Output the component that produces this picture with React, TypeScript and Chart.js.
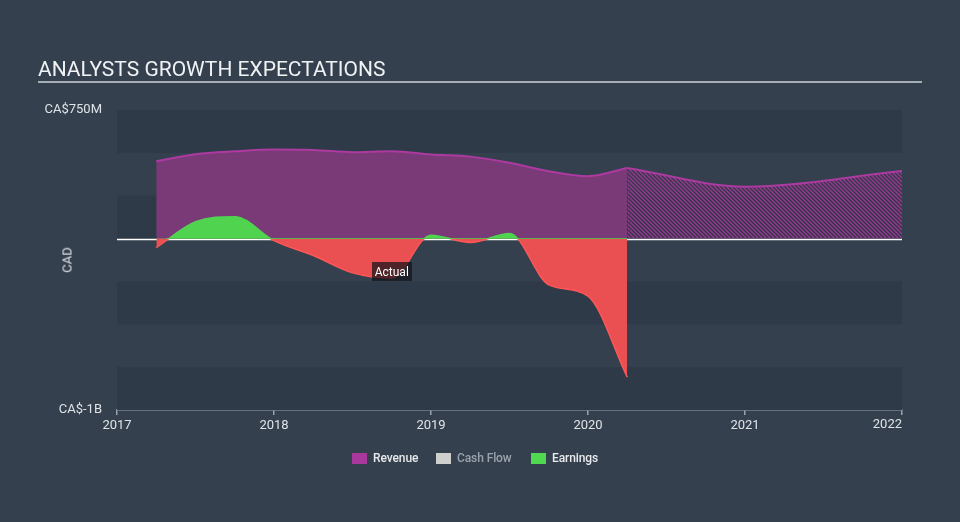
import React, { useEffect, useRef } from "react";
import { Chart, registerables } from "chart.js";

Chart.register(...registerables);

// ---- data (CA$ millions, x in decimal years) ----
const actualYears = [2017.25, 2017.5, 2017.75, 2018.0, 2018.25, 2018.5, 2018.75, 2019.0, 2019.25, 2019.5, 2019.75, 2020.0, 2020.25];
const revenueActual = [451, 492, 509, 519, 517, 504, 509, 490, 478, 442, 393, 364, 412];
const earningsActual = [-53, 98, 128, -12, -99, -200, -230, 20, -23, 30, -270, -336, -809];
const forecastYears = [2020.25, 2021.0, 2022.0];
const revenueForecast = [412, 303, 394];
const xTickYears = [2017, 2018, 2019, 2020, 2021, 2022];
const yGridValues = [-1000, -750, -500, -250, 0, 250, 500, 750];
const yTickLabels: Record<number, string> = { 750: "CA$750M", [-1000]: "CA$-1B" };
const actualLabel = { x: 2018.75, y: -193, text: "Actual" };
const legendItems = [
  { label: "Revenue", color: "#a8389c", text: "#e8eaed" },
  { label: "Cash Flow", color: "#cfcfcf", text: "#9aa3ad" },
  { label: "Earnings", color: "#50d850", text: "#e8eaed" },
];

const BG = "#34404d";
const BAND = "#2e3a48";
const GREEN = "#50d450";
const RED = "#ea4f52";
const PURPLE_FILL = "#7a3977";
const PURPLE_LINE = "#ad3aa0";
const AXIS = "#9aa4ae";
const TEXT = "#dfe3e8";
const FONT = "Roboto, 'Open Sans', sans-serif";

function makeHatch(): CanvasPattern | string {
  const c = document.createElement("canvas");
  c.width = 4;
  c.height = 4;
  const g = c.getContext("2d");
  if (!g) return PURPLE_FILL;
  g.fillStyle = "rgba(70,40,80,0.35)";
  g.fillRect(0, 0, 4, 4);
  g.strokeStyle = "#973b90";
  g.lineWidth = 1.3;
  g.beginPath();
  g.moveTo(0, 0);
  g.lineTo(4, 4);
  g.moveTo(-2, 2);
  g.lineTo(2, 6);
  g.moveTo(2, -2);
  g.lineTo(6, 2);
  g.stroke();
  const p = g.createPattern(c, "repeat");
  return p || PURPLE_FILL;
}

const bandsPlugin = {
  id: "bands",
  beforeDatasetsDraw(chart: any) {
    const { ctx, chartArea, scales } = chart;
    const y = scales.y;
    ctx.save();
    const vals = [...yGridValues].sort((a, b) => b - a);
    for (let i = 0; i < vals.length - 1; i++) {
      if (i % 2 === 0) {
        const top = y.getPixelForValue(vals[i]);
        const bot = y.getPixelForValue(vals[i + 1]);
        ctx.fillStyle = BAND;
        ctx.fillRect(chartArea.left, top, chartArea.right - chartArea.left, bot - top);
      }
    }
    const y0 = Math.round(y.getPixelForValue(0)) + 0.5;
    ctx.strokeStyle = "#ffffff";
    ctx.lineWidth = 1.5;
    ctx.beginPath();
    ctx.moveTo(chartArea.left, y0);
    ctx.lineTo(chartArea.right, y0);
    ctx.stroke();
    ctx.restore();
  },
  afterDatasetsDraw(chart: any) {
    const { ctx, scales, chartArea } = chart;
    const x = scales.x;
    const y = scales.y;
    ctx.save();
    // zero guide within actual period
    const y0 = Math.round(y.getPixelForValue(0)) - 0.5;
    ctx.strokeStyle = "rgba(80,200,80,0.8)";
    ctx.lineWidth = 1;
    ctx.beginPath();
    ctx.moveTo(x.getPixelForValue(actualYears[0]) + 10, y0);
    ctx.lineTo(x.getPixelForValue(actualYears[actualYears.length - 1]), y0);
    ctx.stroke();
    // "Actual" label
    const cx = x.getPixelForValue(actualLabel.x);
    const cy = y.getPixelForValue(actualLabel.y);
    ctx.font = `12px ${FONT}`;
    const w = ctx.measureText(actualLabel.text).width + 6;
    const h = 19;
    ctx.fillStyle = "rgba(20,20,24,0.72)";
    ctx.fillRect(Math.round(cx - w / 2), Math.round(cy - h / 2), Math.round(w), h);
    ctx.fillStyle = "#ffffff";
    ctx.textAlign = "center";
    ctx.textBaseline = "middle";
    ctx.fillText(actualLabel.text, cx, cy + 1);
    // last x tick label, right-aligned to the axis end
    const last = xTickYears[xTickYears.length - 1];
    ctx.font = `13px ${FONT}`;
    ctx.fillStyle = TEXT;
    ctx.textAlign = "right";
    ctx.textBaseline = "middle";
    ctx.fillText(String(last), x.getPixelForValue(last), chartArea.bottom + 15);
    ctx.restore();
  },
};

export default function App() {
  const ref = useRef<HTMLCanvasElement | null>(null);

  useEffect(() => {
    document.body.style.margin = "0";
    document.body.style.background = BG;
    const canvas = ref.current;
    if (!canvas) return;
    const hatch = makeHatch();

    const earningsBorder = (context: any) => {
      const chart = context.chart;
      const { chartArea, scales } = chart;
      if (!chartArea) return RED;
      const g = chart.ctx.createLinearGradient(0, chartArea.top, 0, chartArea.bottom);
      const f = Math.min(1, Math.max(0, (scales.y.getPixelForValue(0) - chartArea.top) / (chartArea.bottom - chartArea.top)));
      g.addColorStop(0, GREEN);
      g.addColorStop(f, GREEN);
      g.addColorStop(f, "#ff5656");
      g.addColorStop(1, "#ff5656");
      return g;
    };

    const lastX = xTickYears[xTickYears.length - 1];

    const chart = new Chart(canvas, {
      type: "line",
      data: {
        datasets: [
          {
            label: "Earnings",
            data: actualYears.map((x, i) => ({ x, y: earningsActual[i] })),
            borderColor: earningsBorder,
            borderWidth: 1.5,
            fill: { target: "origin", above: GREEN, below: RED },
            cubicInterpolationMode: "monotone",
            pointRadius: 0,
          },
          {
            label: "Revenue",
            data: actualYears.map((x, i) => ({ x, y: revenueActual[i] })),
            borderColor: PURPLE_LINE,
            backgroundColor: PURPLE_FILL,
            borderWidth: 2,
            fill: "origin",
            cubicInterpolationMode: "monotone",
            pointRadius: 0,
          },
          {
            label: "Revenue forecast",
            data: forecastYears.map((x, i) => ({ x, y: revenueForecast[i] })),
            borderColor: PURPLE_LINE,
            backgroundColor: hatch as any,
            borderWidth: 2,
            fill: "origin",
            cubicInterpolationMode: "monotone",
            pointRadius: 0,
          },
        ],
      },
      options: {
        animation: false,
        responsive: false,
        maintainAspectRatio: false,
        layout: { padding: { top: 110, right: 58, left: 0, bottom: 0 } },
        plugins: {
          legend: { display: false },
          title: { display: false },
          tooltip: { enabled: false },
        },
        scales: {
          x: {
            type: "linear",
            min: 2017,
            max: 2022,
            afterBuildTicks: (s: any) => {
              s.ticks = xTickYears.map((v) => ({ value: v }));
            },
            afterFit: (s: any) => {
              s.height = 112;
            },
            ticks: {
              callback: (v: any) => (v === lastX ? "" : String(v)),
              color: TEXT,
              font: { family: FONT, size: 13 },
              padding: 3,
              maxRotation: 0,
              autoSkip: false,
            },
            grid: { display: true, drawOnChartArea: false, drawTicks: true, tickLength: 5, color: AXIS, lineWidth: 1.5 },
            border: { display: true, color: AXIS, width: 1.5 },
          },
          y: {
            type: "linear",
            min: -1000,
            max: 750,
            afterBuildTicks: (s: any) => {
              s.ticks = yGridValues.map((v) => ({ value: v }));
            },
            afterFit: (s: any) => {
              s.width = 117;
            },
            ticks: {
              callback: (v: any) => yTickLabels[v as number] || "",
              color: TEXT,
              font: { family: FONT, size: 13 },
              padding: 15,
              autoSkip: false,
            },
            grid: { display: false, drawTicks: false },
            border: { display: false },
          },
        },
      },
      plugins: [bandsPlugin],
    } as any);

    return () => chart.destroy();
  }, []);

  const legendX = [352, 436, 531];

  return (
    <div style={{ position: "relative", width: 960, height: 522, background: BG, fontFamily: FONT, overflow: "hidden" }}>
      <canvas ref={ref} width={960} height={522} style={{ position: "absolute", left: 0, top: 0, width: 960, height: 522 }} />
      <div style={{ position: "absolute", left: 38, top: 56, fontSize: 21, color: "#f0f2f4", whiteSpace: "nowrap", lineHeight: "26px" }}>
        ANALYSTS GROWTH EXPECTATIONS
      </div>
      <div style={{ position: "absolute", left: 38, top: 81, width: 884, height: 2, background: "#a8aeb5" }} />
      <div
        style={{
          position: "absolute",
          left: 67,
          top: 260,
          transform: "translate(-50%, -50%) rotate(-90deg)",
          fontSize: 13,
          color: TEXT,
          whiteSpace: "nowrap",
        }}
      >
        CAD
      </div>
      {legendItems.map((it, i) => (
        <div key={it.label} style={{ position: "absolute", left: legendX[i], top: 451, display: "flex", alignItems: "center", fontSize: 12 }}>
          <span style={{ display: "inline-block", width: 15, height: 11, background: it.color, marginRight: 6 }} />
          <span style={{ color: it.text, lineHeight: "14px", fontWeight: 500, letterSpacing: "-0.1px" }}>{it.label}</span>
        </div>
      ))}
    </div>
  );
}
